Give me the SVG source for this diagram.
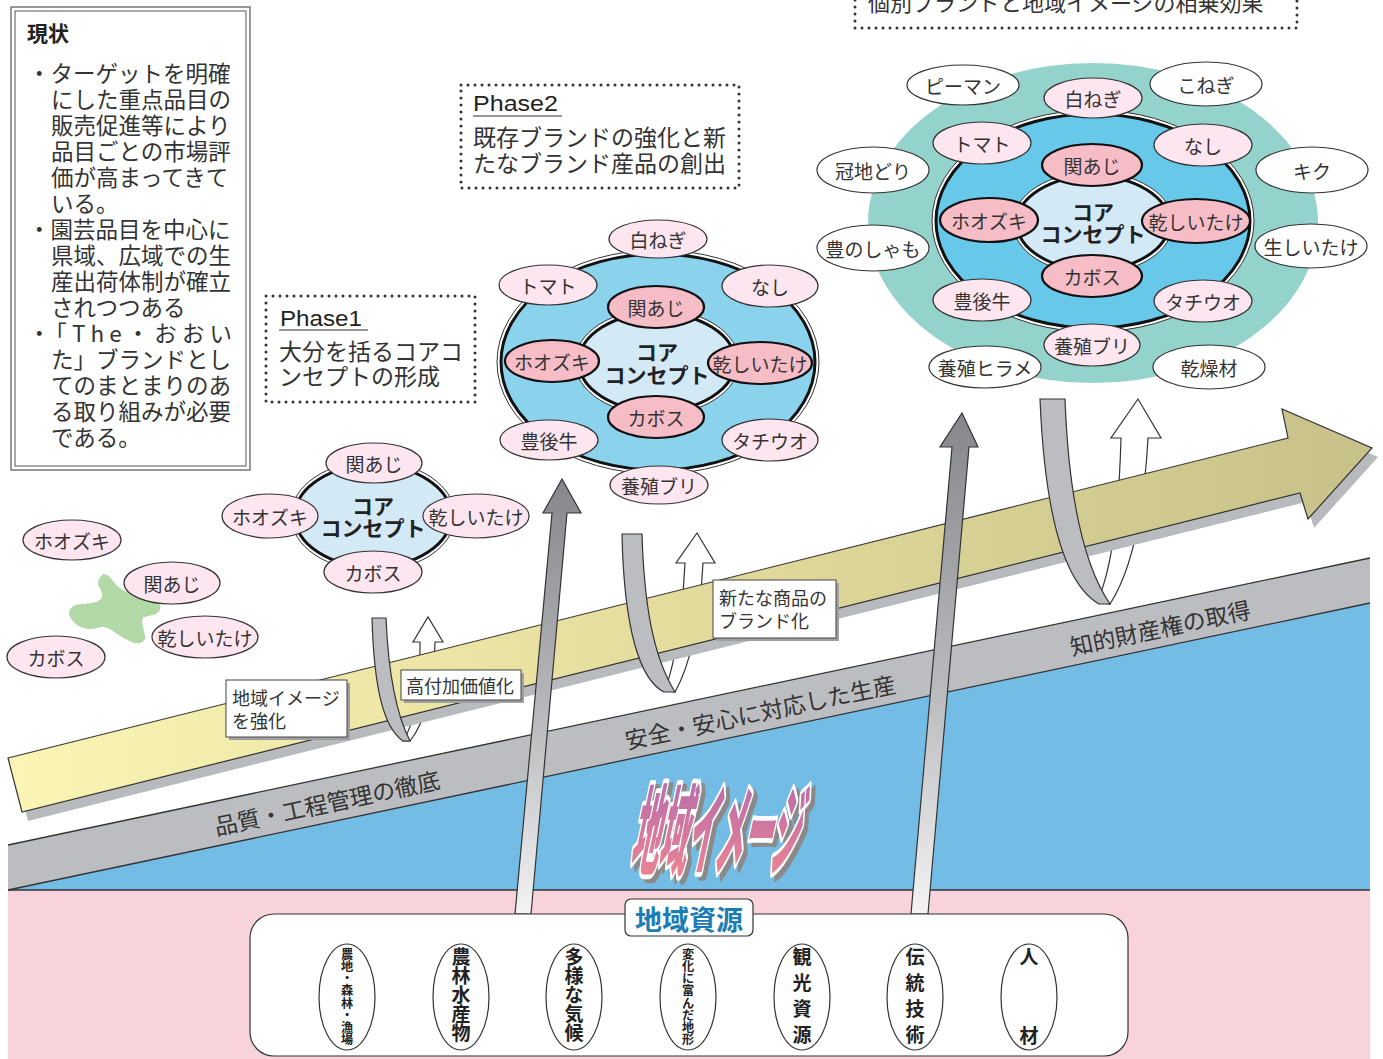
<svg xmlns="http://www.w3.org/2000/svg" width="1383" height="1059" viewBox="0 0 1383 1059">
<defs>
  <linearGradient id="gYellow" x1="0" y1="0" x2="1" y2="0">
    <stop offset="0" stop-color="#faf5b4"/>
    <stop offset="0.5" stop-color="#e3db9c"/>
    <stop offset="1" stop-color="#c7c18a"/>
  </linearGradient>
  <linearGradient id="gArrow" x1="0" y1="0" x2="0" y2="1">
    <stop offset="0" stop-color="#86878b"/>
    <stop offset="0.55" stop-color="#b9babd"/>
    <stop offset="1" stop-color="#f3f3f3"/>
  </linearGradient>
  <linearGradient id="gArt" x1="0" y1="0" x2="0" y2="1">
    <stop offset="0" stop-color="#a967b2"/>
    <stop offset="1" stop-color="#f5878f"/>
  </linearGradient>
</defs>
<style>
  text { font-family: "Noto Sans CJK JP", "Noto Sans", sans-serif; fill: #333; }
  .e { font-size: 19px; text-anchor: middle; dominant-baseline: central; }
  .pl { fill: #fde6ef; stroke: #333; stroke-width: 1.2; }
  .pd { fill: #f7bdc7; stroke: #111; stroke-width: 2.2; }
  .wh { fill: #fff; stroke: #333; stroke-width: 1.2; }
  .dot { fill: none; stroke: #333; stroke-width: 3; stroke-dasharray: 0 7; stroke-linecap: round; }
  .lbl { fill: #fff; stroke: #444; stroke-width: 1; }
  .sh { fill: #a0a0a2; }
  .core { font-size: 21px; font-weight: 700; text-anchor: middle; dominant-baseline: central; fill: #222; }
  .rib { fill: #bcbdc0; stroke: #333; stroke-width: 1.2; }
  .ribw { fill: #fff; stroke: #333; stroke-width: 1.2; }
  .big { fill: url(#gArrow); stroke: #333; stroke-width: 1.2; }
  .band { font-size: 23px; text-anchor: middle; dominant-baseline: central; fill: #333; }
  .lt { font-size: 18px; dominant-baseline: central; }
  .p { font-size: 23px; dominant-baseline: central; }
  .ph { font-family: "Liberation Sans", Arial, sans-serif; font-size: 22px; fill: #222; }
  .res { font-weight: 700; writing-mode: vertical-rl; fill: #222; }
  .ln { stroke: #333; stroke-width: 1.3; fill: none; }
</style>

<!-- background bands -->
<g id="background">
  <rect x="8" y="890" width="1362" height="169" fill="#f8d3dc"/>
  <polygon points="8,890 1370,603 1370,890" fill="#73bce6"/>
  <polygon points="8,845 1370,558 1370,603 8,890" fill="#bcbdc1"/>
  <line class="ln" x1="8" y1="845" x2="1370" y2="558"/>
  <line class="ln" x1="8" y1="890" x2="1370" y2="603"/>
  <line class="ln" x1="8" y1="890" x2="1370" y2="890"/>
  <text class="band" x="327" y="802" transform="rotate(-11.9 327 802)">品質・工程管理の徹底</text>
  <text class="band" x="760" y="711" transform="rotate(-11.9 760 711)">安全・安心に対応した生産</text>
  <text class="band" x="1160" y="627" transform="rotate(-11.9 1160 627)">知的財産権の取得</text>
</g>

<!-- stylised title -->
<g id="chiiki-image-art">
  <g transform="translate(633,871) skewX(-12) scale(0.285,1)">
    <text x="0" y="0" font-size="98" font-weight="900" style="fill:#8a8a8a;stroke:#8a8a8a;stroke-width:7;stroke-linejoin:round" vector-effect="non-scaling-stroke">地域イメージ</text>
  </g>
  <g transform="translate(629,867) skewX(-12) scale(0.285,1)">
    <text x="0" y="0" font-size="98" font-weight="900" style="fill:url(#gArt);stroke:#fff;stroke-width:7;stroke-linejoin:round;paint-order:stroke" vector-effect="non-scaling-stroke">地域イメージ</text>
  </g>
</g>

<g id="connectors">
  <!-- back (white) faces of the U-turn arrows -->
  <path class="ribw" d="M420,642 L413,642 L428,617 L443,642 L435,642 C434,690 425,722 410,741 L403,741 C415,722 420,695 420,642 Z"/>
  <path class="ribw" d="M685,563 L676,563 L697,533 L715,563 L703,563 C700,620 690,665 675,692 L665,690 C676,660 682,620 685,563 Z"/>
  <path class="ribw" d="M1121,438 L1111,438 L1138,399 L1161,438 L1148,438 C1144,510 1132,570 1110,604 L1097,602 C1112,570 1119,510 1121,438 Z"/>

  <!-- main yellow arrow -->
  <polygon points="14,767 1294,447 1288,418 1378,457 1314,528 1306,502 28,821" fill="#b9babd"/>
  <polygon points="8,758 1288,438 1282,409 1372,448 1308,519 1300,493 22,812" fill="url(#gYellow)" stroke="#333" stroke-width="1.2"/>

  <!-- front (gray) faces of the U-turn arrows -->
  <path class="rib" d="M372,618 L386,618 C388,665 395,712 410,741 L403,741 C384,728 374,690 372,618 Z"/>
  <path class="rib" d="M622,534 L642,534 C644,600 652,655 675,692 L664,692 C640,680 624,630 622,534 Z"/>
  <path class="rib" d="M1040,399 L1065,399 C1068,480 1080,560 1110,604 L1099,604 C1066,585 1045,520 1040,399 Z"/>

  <!-- big vertical arrows -->
  <polygon class="big" points="562,479 581,513 567,513 531,914 515,914 552,513 543,513"/>
  <polygon class="big" points="962,413 978,447 969,447 928,914 911,914 952,447 940,447"/>
</g>

<!-- labels on the arrow -->
<g id="label-chiiki">
  <rect class="sh" x="229" y="683" width="121" height="57"/>
  <rect class="lbl" x="226" y="680" width="121" height="57"/>
  <text class="lt" x="232" y="697">地域イメージ</text>
  <text class="lt" x="232" y="720">を強化</text>
</g>
<g id="label-kofuka">
  <rect class="sh" x="404" y="673" width="120" height="30"/>
  <rect class="lbl" x="401" y="670" width="120" height="30"/>
  <text class="lt" x="406" y="685">高付加価値化</text>
</g>
<g id="label-shinshohin">
  <rect class="sh" x="716" y="583" width="123" height="58"/>
  <rect class="lbl" x="713" y="580" width="123" height="58"/>
  <text class="lt" x="719" y="597">新たな商品の</text>
  <text class="lt" x="719" y="620">ブランド化</text>
</g>

<!-- current status box -->
<g id="genjo">
  <rect x="11" y="7" width="239" height="463" fill="#fff" stroke="#777" stroke-width="1.5"/>
  <rect x="15" y="11" width="231" height="455" fill="none" stroke="#555" stroke-width="1"/>
  <text x="27" y="32" font-size="21" font-weight="700" dominant-baseline="central" style="fill:#222">現状</text>
  <g font-size="22.5" dominant-baseline="central">
    <text x="28" y="72">・ターゲットを明確</text>
    <text x="51" y="98">にした重点品目の</text>
    <text x="51" y="124">販売促進等により</text>
    <text x="51" y="150">品目ごとの市場評</text>
    <text x="51" y="176">価が高まってきて</text>
    <text x="51" y="202">いる。</text>
    <text x="28" y="228">・園芸品目を中心に</text>
    <text x="51" y="254">県域、広域での生</text>
    <text x="51" y="280">産出荷体制が確立</text>
    <text x="51" y="306">されつつある</text>
    <text x="28" y="332" textLength="204" lengthAdjust="spacing">・「The・おおい</text>
    <text x="51" y="358">た」ブランドとし</text>
    <text x="51" y="384">てのまとまりのあ</text>
    <text x="51" y="410">る取り組みが必要</text>
    <text x="51" y="436">である。</text>
  </g>
</g>

<!-- current state: separate items -->
<g id="current-items">
  <path d="M103,575 C108,573 112,580 116,585 L122,590 L135,596 L158,603 C162,606 160,612 155,614 L143,617 C140,622 144,630 145,638 C143,644 136,644 130,641 C122,637 116,633 112,630 C106,626 102,626 96,628 C88,630 80,628 74,622 C68,616 68,609 74,606 C82,603 92,605 99,601 C104,598 103,592 100,588 C97,583 99,577 103,575 Z" fill="#b3d9a7" stroke="#9cc292" stroke-width="1" stroke-dasharray="1 1.5"/>
  <ellipse class="pl" cx="72" cy="540" rx="49" ry="20"/>
  <text class="e" x="72" y="540">ホオズキ</text>
  <ellipse class="pl" cx="172" cy="583" rx="48" ry="21"/>
  <text class="e" x="172" y="583">関あじ</text>
  <ellipse class="pl" cx="205" cy="637" rx="53" ry="21"/>
  <text class="e" x="205" y="637">乾しいたけ</text>
  <ellipse class="pl" cx="56" cy="657" rx="49" ry="21"/>
  <text class="e" x="56" y="657">カボス</text>
</g>

<!-- Phase 1 -->
<g id="phase1-box">
  <rect class="dot" x="266" y="296" width="209" height="106"/>
  <text class="ph" x="280" y="326" textLength="82" lengthAdjust="spacingAndGlyphs">Phase1</text>
  <line x1="279" y1="330" x2="368" y2="330" stroke="#333" stroke-width="1.2"/>
  <text class="p" x="279" y="350">大分を括るコアコ</text>
  <text class="p" x="279" y="375">ンセプトの形成</text>
</g>
<g id="phase1-cluster">
  <ellipse cx="373" cy="516" rx="82" ry="55" fill="#fff" stroke="#333" stroke-width="1"/>
  <ellipse cx="373" cy="516" rx="78" ry="51" fill="#d4e9f6" stroke="#111" stroke-width="3"/>
  <text class="core" x="373" y="505">コア</text>
  <text class="core" x="373" y="527">コンセプト</text>
  <ellipse class="pl" cx="374" cy="463" rx="48" ry="20"/>
  <text class="e" x="374" y="463">関あじ</text>
  <ellipse class="pl" cx="270" cy="516" rx="48" ry="22"/>
  <text class="e" x="270" y="516">ホオズキ</text>
  <ellipse class="pl" cx="476" cy="516" rx="53" ry="22"/>
  <text class="e" x="476" y="516">乾しいたけ</text>
  <ellipse class="pl" cx="373" cy="572" rx="49" ry="21"/>
  <text class="e" x="373" y="572">カボス</text>
</g>

<!-- Phase 2 -->
<g id="phase2-box">
  <rect class="dot" x="461" y="85" width="278" height="103"/>
  <text class="ph" x="473" y="111" textLength="85" lengthAdjust="spacingAndGlyphs">Phase2</text>
  <line x1="473" y1="116" x2="562" y2="116" stroke="#333" stroke-width="1.2"/>
  <text class="p" x="473" y="136">既存ブランドの強化と新</text>
  <text class="p" x="473" y="162">たなブランド産品の創出</text>
</g>
<g id="phase2-cluster">
  <ellipse cx="658" cy="362" rx="161" ry="112" fill="#fff" stroke="#333" stroke-width="1"/>
  <ellipse cx="658" cy="362" rx="157" ry="108" fill="#8bd3ec" stroke="#111" stroke-width="3"/>
  <ellipse cx="657" cy="362" rx="82" ry="53" fill="#fff" stroke="#333" stroke-width="1"/>
  <ellipse cx="657" cy="362" rx="78" ry="49" fill="#d4e9f6" stroke="#111" stroke-width="3"/>
  <text class="core" x="657" y="351">コア</text>
  <text class="core" x="657" y="374">コンセプト</text>
  <ellipse class="pd" cx="656" cy="307" rx="48" ry="21"/>
  <text class="e" x="656" y="307">関あじ</text>
  <ellipse class="pd" cx="552" cy="361" rx="47" ry="21"/>
  <text class="e" x="552" y="361">ホオズキ</text>
  <ellipse class="pd" cx="760" cy="363" rx="52" ry="21"/>
  <text class="e" x="760" y="363">乾しいたけ</text>
  <ellipse class="pd" cx="656" cy="417" rx="48" ry="21"/>
  <text class="e" x="656" y="417">カボス</text>
  <ellipse class="pl" cx="658" cy="239" rx="49" ry="19"/>
  <text class="e" x="658" y="239">白ねぎ</text>
  <ellipse class="pl" cx="548" cy="285" rx="49" ry="20"/>
  <text class="e" x="548" y="285">トマト</text>
  <ellipse class="pl" cx="770" cy="286" rx="48" ry="21"/>
  <text class="e" x="770" y="286">なし</text>
  <ellipse class="pl" cx="549" cy="440" rx="49" ry="20"/>
  <text class="e" x="549" y="440">豊後牛</text>
  <ellipse class="pl" cx="770" cy="440" rx="48" ry="21"/>
  <text class="e" x="770" y="440">タチウオ</text>
  <ellipse class="pl" cx="659" cy="485" rx="49" ry="19"/>
  <text class="e" x="659" y="485">養殖ブリ</text>
</g>

<!-- Phase 3 -->
<g id="phase3-box">
  <polyline class="dot" points="855,0 855,28 1297,28 1297,0"/>
  <text x="868" y="1" font-size="22" dominant-baseline="central">個別ブランドと地域イメージの相乗効果</text>
</g>
<g id="phase3-cluster">
  <ellipse cx="1093" cy="223" rx="225" ry="160" fill="#94d3cc"/>
  <ellipse cx="1093" cy="221" rx="161" ry="111" fill="#fff" stroke="#333" stroke-width="1"/>
  <ellipse cx="1093" cy="221" rx="157" ry="107" fill="#67c8ea" stroke="#111" stroke-width="3"/>
  <ellipse cx="1093" cy="223" rx="80" ry="51" fill="#fff" stroke="#333" stroke-width="1"/>
  <ellipse cx="1093" cy="223" rx="76" ry="47" fill="#d4e9f6" stroke="#111" stroke-width="3"/>
  <text class="core" x="1093" y="211">コア</text>
  <text class="core" x="1093" y="233">コンセプト</text>
  <ellipse class="pd" cx="1092" cy="165" rx="50" ry="21"/>
  <text class="e" x="1092" y="165">関あじ</text>
  <ellipse class="pd" cx="989" cy="220" rx="49" ry="22"/>
  <text class="e" x="989" y="220">ホオズキ</text>
  <ellipse class="pd" cx="1196" cy="221" rx="54" ry="22"/>
  <text class="e" x="1196" y="221">乾しいたけ</text>
  <ellipse class="pd" cx="1092" cy="276" rx="50" ry="21"/>
  <text class="e" x="1092" y="276">カボス</text>
  <ellipse class="pl" cx="1093" cy="98" rx="49" ry="20"/>
  <text class="e" x="1093" y="98">白ねぎ</text>
  <ellipse class="pl" cx="982" cy="143" rx="49" ry="21"/>
  <text class="e" x="982" y="143">トマト</text>
  <ellipse class="pl" cx="1203" cy="145" rx="49" ry="21"/>
  <text class="e" x="1203" y="145">なし</text>
  <ellipse class="pl" cx="982" cy="300" rx="49" ry="21"/>
  <text class="e" x="982" y="300">豊後牛</text>
  <ellipse class="pl" cx="1203" cy="301" rx="49" ry="21"/>
  <text class="e" x="1203" y="301">タチウオ</text>
  <ellipse class="pl" cx="1092" cy="345" rx="48" ry="21"/>
  <text class="e" x="1092" y="345">養殖ブリ</text>
  <ellipse class="wh" cx="963" cy="85" rx="56" ry="20"/>
  <text class="e" x="963" y="85">ピーマン</text>
  <ellipse class="wh" cx="1206" cy="84" rx="56" ry="22"/>
  <text class="e" x="1206" y="84">こねぎ</text>
  <ellipse class="wh" cx="873" cy="170" rx="56" ry="23"/>
  <text class="e" x="873" y="170">冠地どり</text>
  <ellipse class="wh" cx="1312" cy="170" rx="56" ry="23"/>
  <text class="e" x="1312" y="170">キク</text>
  <ellipse class="wh" cx="873" cy="248" rx="56" ry="23"/>
  <text class="e" x="873" y="248">豊のしゃも</text>
  <ellipse class="wh" cx="1311" cy="246" rx="56" ry="22"/>
  <text class="e" x="1311" y="246">生しいたけ</text>
  <ellipse class="wh" cx="985" cy="367" rx="56" ry="21"/>
  <text class="e" x="985" y="367">養殖ヒラメ</text>
  <ellipse class="wh" cx="1209" cy="367" rx="56" ry="22"/>
  <text class="e" x="1209" y="367">乾燥材</text>
</g>

<!-- regional resources -->
<g id="chiiki-shigen">
  <rect x="250" y="914" width="878" height="142" rx="24" fill="#fff" stroke="#333" stroke-width="1.2"/>
  <rect x="625" y="899" width="128" height="37" rx="6" fill="#fff" stroke="#333" stroke-width="1.2"/>
  <text x="689" y="918" font-size="27" font-weight="700" text-anchor="middle" dominant-baseline="central" style="fill:#1b7db4">地域資源</text>
</g>
<g id="res-1"><ellipse class="wh" cx="347" cy="997" rx="28" ry="53"/><text class="res" x="347" y="948" font-size="12.2">農地・森林・漁場</text></g>
<g id="res-2"><ellipse class="wh" cx="461" cy="997" rx="28" ry="53"/><text class="res" x="461" y="947" font-size="19">農林水産物</text></g>
<g id="res-3"><ellipse class="wh" cx="574" cy="997" rx="28" ry="53"/><text class="res" x="574" y="947" font-size="19">多様な気候</text></g>
<g id="res-4"><ellipse class="wh" cx="688" cy="997" rx="28" ry="53"/><text class="res" x="688" y="948" font-size="12.2">変化に富んだ地形</text></g>
<g id="res-5"><ellipse class="wh" cx="802" cy="997" rx="28" ry="53"/><text class="res" x="802" y="947" font-size="19" letter-spacing="7">観光資源</text></g>
<g id="res-6"><ellipse class="wh" cx="915" cy="997" rx="28" ry="53"/><text class="res" x="915" y="947" font-size="19" letter-spacing="7">伝統技術</text></g>
<g id="res-7"><ellipse class="wh" cx="1029" cy="997" rx="28" ry="53"/><text class="res" x="1029" font-size="19"><tspan y="947">人</tspan><tspan y="1026">材</tspan></text></g>
</svg>
